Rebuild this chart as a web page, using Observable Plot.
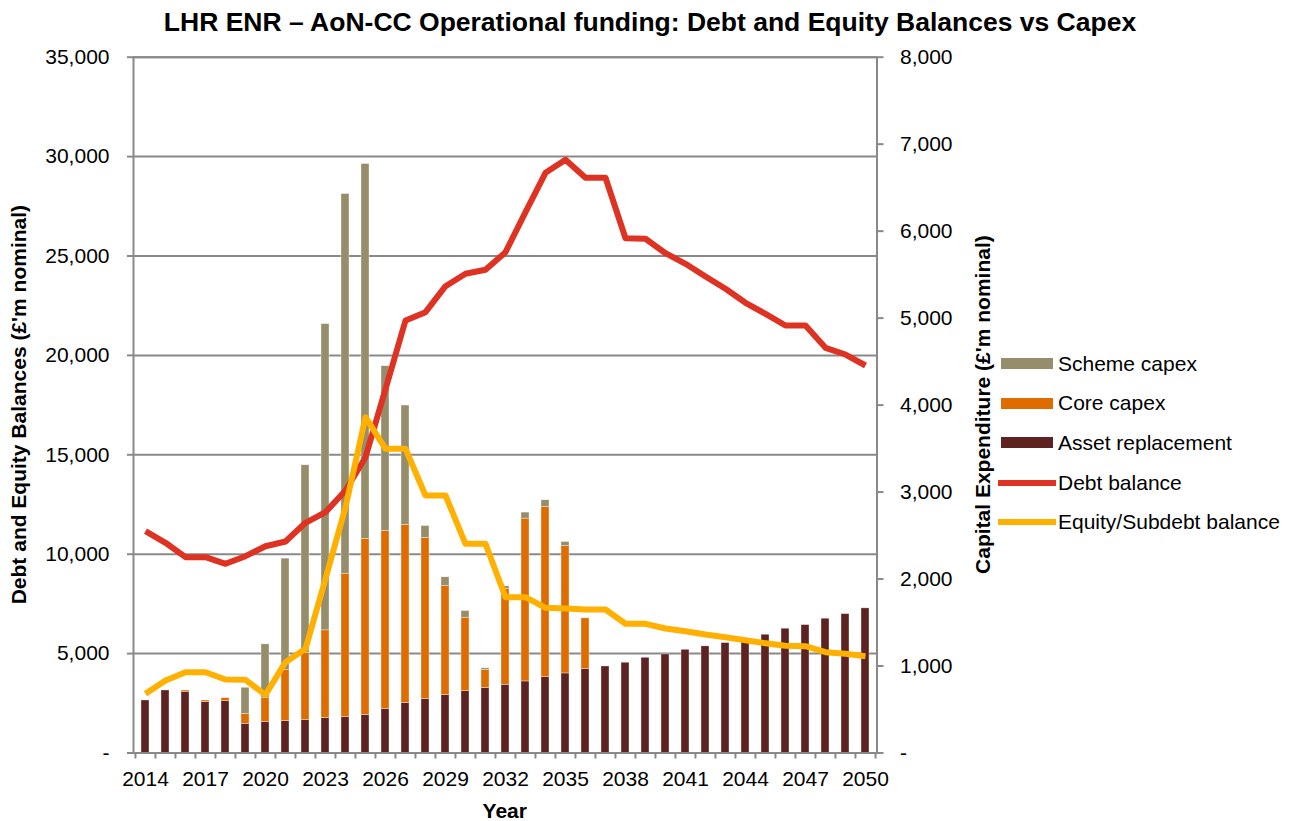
<!DOCTYPE html>
<html>
<head>
<meta charset="utf-8">
<script src="https://cdn.jsdelivr.net/npm/d3@7"></script>
<script src="https://cdn.jsdelivr.net/npm/@observablehq/plot@0.6"></script>
<style>
  body { margin: 0; background: #fff; font-family: "Liberation Sans", Arial, sans-serif; color: #000; }
  #wrap { position: relative; width: 1296px; height: 821px; overflow: hidden; }
  #title { height: 40px; line-height: 44px; text-align: center; font-weight: bold; font-size: 26.5px; white-space: nowrap; padding-left: 4px; }
  .leg { position: absolute; left: 0; height: 24px; font-size: 21px; line-height: 24px; white-space: nowrap; }
  .leg .sw { position: absolute; }
  .leg .lab { position: absolute; left: 1058px; top: 0; }
</style>
</head>
<body>
<div id="wrap">
  <div id="title">LHR ENR – AoN-CC Operational funding: Debt and Equity Balances vs Capex</div>
  <div id="chart"></div>
  <div id="legend"></div>
</div>
<script>
// ---- Data ----
const years = [2014,2015,2016,2017,2018,2019,2020,2021,2022,2023,2024,2025,2026,2027,2028,2029,2030,2031,2032,2033,2034,2035,2036,2037,2038,2039,2040,2041,2042,2043,2044,2045,2046,2047,2048,2049,2050];
const xLabelYears = [2014,2017,2020,2023,2026,2029,2032,2035,2038,2041,2044,2047,2050];

// Capital expenditure (£'m nominal, right axis)
const assetReplacement = [604,719,704,585,596,336,355,366,378,401,414,438,508,575,619,665,711,748,785,823,872,915,965,995,1038,1095,1133,1187,1226,1264,1310,1360,1429,1471,1544,1597,1663];
const coreCapex = [0,0,15,19,35,115,276,587,772,1009,1648,2024,2044,2049,1855,1255,845,209,1104,1872,1957,1465,583,0,0,0,0,0,0,0,0,0,0,0,0,0,0];
const schemeCapex = [0,0,0,0,0,299,618,1282,2158,3521,4365,4310,1895,1371,136,100,76,17,27,69,77,46,0,0,0,0,0,0,0,0,0,0,0,0,0,0,0];

// Balances (£'m nominal, left axis)
const debtBalance = [11157,10573,9850,9850,9517,9900,10402,10639,11580,12113,13204,14880,18300,21755,22173,23481,24104,24306,25191,27204,29184,29838,28934,28934,25895,25865,25141,24607,23969,23350,22646,22093,21504,21504,20382,20045,19492];
const equityBalance = [2978,3647,4064,4064,3698,3681,2928,4568,5241,8763,12364,16892,15302,15302,12953,12953,10523,10523,7837,7837,7304,7268,7218,7218,6499,6499,6263,6127,5961,5826,5675,5523,5392,5375,5072,4990,4870];

const leftTicks = [0,5000,10000,15000,20000,25000,30000,35000];
const rightTicks = [0,1000,2000,3000,4000,5000,6000,7000,8000];

const barSeries = ["Asset replacement","Core capex","Scheme capex"];
const barColors = ["#5E2220","#DF6C00","#968D6A"];
const debtColor = "#DE3223";
const equityColor = "#FFB000";
const legendItems = [
  {name:"Scheme capex", color:"#968D6A", kind:"bar"},
  {name:"Core capex", color:"#DF6C00", kind:"bar"},
  {name:"Asset replacement", color:"#5E2220", kind:"bar"},
  {name:"Debt balance", color:debtColor, kind:"line"},
  {name:"Equity/Subdebt balance", color:equityColor, kind:"line"}
];

// ---- Build ----
const K = 35000 / 8000; // right axis -> left axis
const W = 1296, H = 781, mL = 133, mR = 1296 - 876.5, mT = 16.7, mB = 68.5;
const step = (W - mL - mR) / years.length;
const gray = "#898989";
const fmt = v => v === 0 ? "-" : d3.format(",")(v);

const capex = [];
years.forEach((yr, i) => {
  capex.push({year: yr, series: barSeries[0], value: assetReplacement[i]});
  capex.push({year: yr, series: barSeries[1], value: coreCapex[i]});
  capex.push({year: yr, series: barSeries[2], value: schemeCapex[i]});
});
const balances = years.map((yr, i) => ({year: yr, debt: debtBalance[i], equity: equityBalance[i]}));

const chart = Plot.plot({
  width: W, height: H,
  marginLeft: mL, marginRight: mR, marginTop: mT, marginBottom: mB,
  style: {fontFamily: "'Liberation Sans', Arial, sans-serif", fontSize: "21px", color: "#000", background: "#fff", overflow: "visible"},
  x: {type: "band", domain: years, paddingInner: 0.6, paddingOuter: 0.3, label: null},
  y: {domain: [0, 35000], label: null},
  color: {domain: barSeries, range: barColors},
  marks: [
    Plot.gridY(leftTicks, {stroke: gray, strokeOpacity: 1, strokeWidth: 2}),
    Plot.barY(capex, {x: "year", y: d => d.value * K, fill: "series", order: barSeries, stroke: "#fff", strokeWidth: 0.6, strokeOpacity: 0.6}),
    Plot.lineY(balances, {x: "year", y: "debt", stroke: debtColor, strokeWidth: 6, strokeLinejoin: "round", strokeLinecap: "butt"}),
    Plot.lineY(balances, {x: "year", y: "equity", stroke: equityColor, strokeWidth: 6, strokeLinejoin: "round", strokeLinecap: "butt"}),
    Plot.frame({stroke: gray, strokeWidth: 2}),
    Plot.axisY(leftTicks, {anchor: "left", tickSize: 6, tickPadding: 18, tickFormat: fmt, stroke: gray, strokeWidth: 2, fontSize: 21, label: null}),
    Plot.axisY(rightTicks.map(v => v * K), {anchor: "right", tickSize: 6, tickPadding: 17, tickFormat: v => fmt(Math.round(v / K)), stroke: gray, strokeWidth: 2, fontSize: 21, label: null}),
    Plot.axisX(years, {tickSize: 6, text: null, dx: -step / 2, stroke: gray, strokeWidth: 2, label: null}),
    Plot.axisX([2050], {tickSize: 6, text: null, dx: step / 2, stroke: gray, strokeWidth: 2, label: null}),
    Plot.axisX(xLabelYears, {tickSize: 0, tickPadding: 18, tickFormat: d => String(d), fontSize: 21, label: null})
  ]
});
document.getElementById("chart").appendChild(chart);

// Axis titles
const svg = d3.select(chart);
const midY = mT + (H - mT - mB) / 2;
svg.append("text").attr("transform", `translate(18,${midY}) rotate(-90)`)
  .attr("text-anchor", "middle").attr("dominant-baseline", "central")
  .attr("font-weight", "bold").attr("font-size", 21).attr("fill", "#000")
  .text("Debt and Equity Balances (£'m nominal)");
svg.append("text").attr("transform", `translate(982,${midY}) rotate(-90)`)
  .attr("text-anchor", "middle").attr("dominant-baseline", "central")
  .attr("font-weight", "bold").attr("font-size", 21).attr("fill", "#000")
  .text("Capital Expenditure (£'m nominal)");
svg.append("text").attr("x", mL + (W - mL - mR) / 2).attr("y", 770)
  .attr("text-anchor", "middle").attr("dominant-baseline", "central")
  .attr("font-weight", "bold").attr("font-size", 21).attr("fill", "#000")
  .text("Year");

// Legend
const legend = document.getElementById("legend");
const legendTop = 363.7;
const legendGap = 39.6;
legendItems.forEach((it, i) => {
  const cy = legendTop + i * legendGap;
  const row = document.createElement("div");
  row.className = "leg";
  row.style.top = (cy - 12) + "px";
  row.style.width = "1296px";
  const sw = document.createElement("div");
  sw.className = "sw";
  if (it.kind === "bar") {
    sw.style.left = "1001px"; sw.style.width = "52px"; sw.style.height = "11px"; sw.style.top = "6.5px";
  } else {
    sw.style.left = "998px"; sw.style.width = "58px"; sw.style.height = "6px"; sw.style.top = "9px";
  }
  sw.style.background = it.color;
  const lab = document.createElement("div");
  lab.className = "lab";
  lab.textContent = it.name;
  row.appendChild(sw); row.appendChild(lab);
  legend.appendChild(row);
});
</script>
</body>
</html>
